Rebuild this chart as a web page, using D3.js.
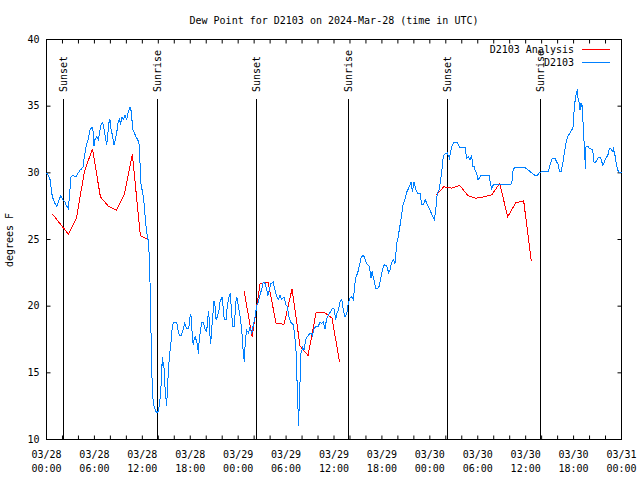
<!DOCTYPE html>
<html><head><meta charset="utf-8">
<script src="https://cdn.jsdelivr.net/npm/d3@7"></script>
<style>
html,body{margin:0;padding:0;background:#fff;}
svg{display:block;}
text{font-family:"DejaVu Sans Mono","Liberation Mono",monospace;font-size:10px;fill:#000;}
</style></head><body>
<svg id="chart" width="640" height="480"></svg>
<script>
const titleText = "Dew Point for D2103 on 2024-Mar-28 (time in UTC)";
const yLabelText = "degrees F";
const seriesNames = ["D2103 Analysis", "D2103"];
const seriesColors = ["#ff0000", "#0080ff"];

// x ticks (hours since 2024-03-28 00:00 UTC)
const labelHours = [0, 6, 12, 18, 24, 30, 36, 42, 48, 54, 60, 66, 72];
const labelDates = ["03/28","03/28","03/28","03/28","03/29","03/29","03/29","03/29","03/30","03/30","03/30","03/30","03/31"];
const labelTimes = ["00:00","06:00","12:00","18:00","00:00","06:00","12:00","18:00","00:00","06:00","12:00","18:00","00:00"];
const minorTickStepHours = 2;
const yTicks = [10, 15, 20, 25, 30, 35, 40];

// sun events
const sunHours = [2.19, 13.88, 26.27, 37.8, 50.19, 61.84];
const sunLabels = ["Sunset", "Sunrise", "Sunset", "Sunrise", "Sunset", "Sunrise"];

// D2103 Analysis (hourly, three runs)
const analysisHours = [0.75,1.75,2.75,3.75,4.75,5.75,6.75,7.75,8.75,9.75,10.75,11.75,12.75,
  24.75,25.75,26.75,27.75,28.75,29.75,30.75,31.75,32.75,33.75,34.75,35.75,36.7,
  48.75,49.75,50.75,51.75,52.75,53.75,54.75,55.75,56.75,57.75,58.75,59.75,60.7];
const analysisValues = [26.9,26.15,25.4,26.6,30.1,31.8,28.2,27.5,27.2,28.4,31.4,25.3,25.0,
  21.1,17.7,21.7,21.8,18.7,18.65,21.3,17.0,16.3,19.5,19.55,19.1,15.8,
  28.3,28.95,28.85,29.05,28.3,28.1,28.2,28.35,29.2,26.7,27.75,27.9,23.4];

// D2103 observations
const obsHours = [0,0.23,0.44,0.73,1.06,1.28,1.48,1.78,2.03,2.32,2.44,2.73,2.86,3.07,3.23,3.66,3.98,4.19,4.41,4.61,4.73,4.91,5.03,5.23,5.45,5.66,5.79,5.95,6.07,6.29,6.49,6.70,6.82,7.04,7.20,7.36,7.54,7.66,7.79,7.95,8.08,8.29,8.45,8.62,8.79,8.95,9.12,9.29,9.45,9.62,9.83,10.04,10.24,10.46,10.62,10.79,10.99,11.21,11.42,11.58,11.71,11.83,12.12,12.25,12.42,12.55,12.71,12.80,12.87,12.96,13.05,13.17,13.30,13.46,13.67,13.92,14.05,14.21,14.34,14.43,14.50,14.59,14.68,14.80,14.93,15.05,15.13,15.25,15.38,15.55,15.68,15.80,16.00,16.30,16.47,16.63,16.88,17.13,17.31,17.56,17.81,17.93,18.06,18.18,18.26,18.38,18.51,18.63,18.81,18.93,19.01,19.13,19.26,19.43,19.64,19.85,20.06,20.19,20.31,20.47,20.56,20.69,20.81,20.97,21.10,21.23,21.39,21.60,21.73,21.98,22.14,22.26,22.48,22.64,22.82,23.02,23.17,23.32,23.52,23.70,23.82,23.94,24.11,24.23,24.44,24.64,24.77,24.90,25.07,25.27,25.48,25.70,25.90,26.11,26.32,26.52,26.73,26.95,27.15,27.36,27.57,27.70,27.90,28.11,28.40,28.61,28.83,29.03,29.24,29.45,29.74,29.99,30.15,30.37,30.58,30.91,31.08,31.24,31.33,31.46,31.53,31.62,31.74,31.87,32.08,32.25,32.46,32.66,32.91,33.12,33.33,33.41,33.62,33.84,34.04,34.25,34.46,34.66,34.87,35.09,35.37,35.59,35.79,36.00,36.21,36.34,36.54,36.75,36.97,37.17,37.38,37.59,37.79,38.00,38.22,38.42,38.63,38.76,38.97,39.17,39.38,39.60,39.80,40.01,40.22,40.42,40.64,40.76,40.92,41.10,41.26,41.47,41.67,41.89,42.10,42.30,42.60,42.85,43.01,43.23,43.43,43.64,43.85,43.98,44.14,44.39,44.64,44.89,45.14,45.39,45.64,45.83,46.02,46.27,46.52,46.77,46.98,47.18,47.43,47.68,48.02,48.31,48.56,48.74,48.94,49.15,49.36,49.49,49.61,49.69,49.90,50.19,50.44,50.61,50.82,51.07,51.37,51.57,51.78,52.41,52.62,52.82,53.03,53.24,53.37,53.53,53.66,53.87,54.00,54.20,54.41,55.45,55.57,55.75,55.95,56.29,58.04,58.25,58.45,58.67,59.92,60.33,60.76,61.17,61.46,61.71,62.01,62.84,63.05,63.26,63.46,63.68,63.89,64.09,64.22,64.43,64.64,64.80,64.97,65.14,65.34,65.56,65.77,65.97,66.09,66.27,66.39,66.47,66.56,66.68,66.81,66.93,67.02,67.10,67.22,67.40,67.47,67.56,67.77,67.97,68.18,68.40,68.56,68.77,68.97,69.18,69.40,69.65,69.85,70.03,70.28,70.48,70.69,70.85,70.98,71.19,71.40,71.60,71.81,72.00];
const obsValues = [30.0,29.8,29.5,28.2,27.7,27.5,27.8,28.3,28.0,27.8,27.6,27.3,28.2,29.7,29.8,29.7,30.0,30.2,30.3,30.5,31.2,31.8,32.2,32.5,33.2,33.4,33.4,32.0,32.5,32.7,32.5,33.2,33.6,33.8,33.3,32.7,32.1,32.7,33.7,34.0,33.3,32.7,32.1,32.5,33.0,33.7,34.0,33.7,34.2,34.0,34.3,34.0,34.6,34.9,34.6,33.3,33.0,32.7,32.5,32.2,30.7,29.2,28.2,27.5,26.2,25.5,25.0,24.7,23.5,21.8,19.1,15.3,13.2,12.5,12.1,12.0,12.3,13.0,14.0,15.2,16.2,15.5,15.8,14.3,13.2,12.5,13.7,15.0,16.2,17.0,18.0,18.6,18.8,18.8,18.2,17.8,17.8,18.3,18.7,18.3,18.3,19.1,19.4,18.8,17.6,17.1,17.6,17.7,17.3,17.0,16.4,17.5,18.1,18.8,18.8,18.3,18.1,19.1,19.6,17.8,17.2,18.3,19.2,20.4,20.0,19.0,19.2,19.7,20.3,20.7,19.8,19.0,19.0,20.0,20.6,21.0,19.5,18.5,18.5,20.3,20.7,20.3,19.7,19.3,18.3,16.5,15.8,17.5,18.2,18.0,18.4,18.0,18.6,19.2,20.0,20.3,20.8,21.3,21.8,21.7,21.3,20.8,21.2,21.7,21.8,21.2,20.7,20.5,20.8,20.5,20.7,20.1,20.0,19.2,18.8,18.6,17.8,16.7,14.8,13.5,11.0,12.2,14.2,16.5,16.9,16.7,17.5,17.7,17.9,18.0,17.7,18.2,18.4,18.5,18.5,18.8,18.7,18.8,18.3,19.1,19.4,19.6,19.8,19.8,19.0,19.4,19.7,20.3,20.5,19.7,19.2,19.4,20.2,20.6,20.7,20.5,21.7,22.2,22.5,23.0,23.6,23.8,23.7,23.3,23.1,23.0,22.1,22.6,22.2,21.7,21.3,21.3,21.5,22.2,22.8,23.1,23.0,22.5,22.7,23.3,23.5,23.2,24.7,25.0,25.6,26.5,27.6,28.0,28.6,28.9,29.3,28.6,29.3,28.7,28.4,28.5,27.6,27.6,28.0,27.6,27.2,26.8,26.5,27.2,28.5,28.7,29.5,30.1,30.8,31.3,31.4,31.5,31.1,31.6,32.1,32.3,32.3,32.1,31.9,31.9,31.1,31.2,31.0,31.3,30.5,30.5,30.2,30.0,29.5,29.6,29.8,29.8,29.2,28.8,29.1,29.1,29.1,29.2,30.3,30.4,30.4,30.2,30.0,29.8,29.8,30.0,30.1,30.1,30.6,31.0,31.1,31.1,30.8,30.6,30.1,30.1,30.7,31.3,32.0,32.5,32.8,33.0,33.2,33.5,35.0,35.7,36.1,36.2,35.6,35.3,34.7,35.2,35.0,35.1,33.2,31.5,30.3,32.0,32.0,31.8,31.8,31.7,30.8,30.8,31.0,31.2,31.1,30.6,30.8,31.1,31.3,31.8,31.8,31.6,31.8,31.3,30.5,30.1,30.0,30.0];

const L = 46.5, R = 621.5, T = 39.5, B = 439.5;
const svg = d3.select("#chart");
const x = d3.scaleLinear().domain([0, 72]).range([L, R]);
const y = d3.scaleLinear().domain([10, 40]).range([B, T]);
const minorHours = d3.range(0, 72 + 0.001, minorTickStepHours);

// ticks (mirrored on all four sides)
const tickStyle = g => { g.select(".domain").remove(); g.selectAll("line").attr("stroke", "#000"); };
svg.append("g").attr("transform", `translate(0,${B})`)
  .call(d3.axisBottom(x).tickValues(minorHours).tickSize(-4).tickFormat("").offset(0)).call(tickStyle);
svg.append("g").attr("transform", `translate(0,${T})`)
  .call(d3.axisTop(x).tickValues(minorHours).tickSize(-4).tickFormat("").offset(0)).call(tickStyle);
svg.append("g").attr("transform", `translate(${L},0)`)
  .call(d3.axisLeft(y).tickValues(yTicks).tickSize(-4).tickFormat("").offset(0)).call(tickStyle);
svg.append("g").attr("transform", `translate(${R},0)`)
  .call(d3.axisRight(y).tickValues(yTicks).tickSize(-4).tickFormat("").offset(0)).call(tickStyle);

// y labels
svg.append("g").attr("transform", `translate(${L},0)`)
  .call(d3.axisLeft(y).tickValues(yTicks).tickSize(0).tickPadding(7).tickFormat(d3.format("d")).offset(0))
  .call(g => g.select(".domain").remove());

// x labels (two lines)
const xl = svg.append("g").attr("transform", `translate(0,${B})`)
  .call(d3.axisBottom(x).tickValues(labelHours).tickSize(0).tickPadding(11).tickFormat("").offset(0))
  .call(g => g.select(".domain").remove());
xl.selectAll(".tick text").each(function(d, i) {
  const t = d3.select(this);
  t.append("tspan").attr("x", 0).text(labelDates[i]);
  t.append("tspan").attr("x", 0).attr("dy", 14).text(labelTimes[i]);
});

// border
svg.append("rect").attr("x", L).attr("y", T).attr("width", R - L).attr("height", B - T)
  .attr("fill", "none").attr("stroke", "#000").attr("stroke-width", 1);

// sun lines + labels
const sun = svg.append("g");
sunHours.forEach((h, i) => {
  const sx = Math.round(x(h) - 0.5) + 0.5;
  sun.append("line").attr("x1", sx).attr("x2", sx).attr("y1", 99).attr("y2", B)
    .attr("stroke", "#000").attr("stroke-width", 1);
  sun.append("text").attr("transform", `translate(${sx},92) rotate(-90)`)
    .attr("dy", "0.36em").attr("text-anchor", "start").text(sunLabels[i]);
});

// title and y axis label
svg.append("text").attr("x", (L + R) / 2).attr("y", 24).attr("text-anchor", "middle").text(titleText);
svg.append("text").attr("transform", "translate(13,240) rotate(-90)").attr("text-anchor", "middle").text(yLabelText);

// data
const line = d3.line().x(d => x(d[0])).y(d => y(d[1]));
const analysisPts = analysisHours.map((h, i) => [h, analysisValues[i]]);
const runs = [];
analysisPts.forEach((p, i) => {
  if (i === 0 || p[0] - analysisPts[i - 1][0] > 2) runs.push([]);
  runs[runs.length - 1].push(p);
});
svg.append("g").selectAll("path").data(runs).join("path")
  .attr("d", line).attr("fill", "none").attr("stroke", seriesColors[0]).attr("stroke-width", 1)
  .attr("shape-rendering", "crispEdges");
const obsPts = obsHours.map((h, i) => [h, obsValues[i]]);
svg.append("path").datum(obsPts).attr("d", line).attr("fill", "none")
  .attr("stroke", seriesColors[1]).attr("stroke-width", 1).attr("shape-rendering", "crispEdges");

// legend
const leg = svg.append("g");
seriesNames.forEach((name, i) => {
  const ly = 49.5 + i * 13;
  leg.append("text").attr("x", 574).attr("y", ly).attr("dy", "0.35em").attr("text-anchor", "end").text(name);
  leg.append("line").attr("x1", 582).attr("x2", 610).attr("y1", ly).attr("y2", ly)
    .attr("stroke", seriesColors[i]).attr("stroke-width", 1);
});
</script>
</body></html>
